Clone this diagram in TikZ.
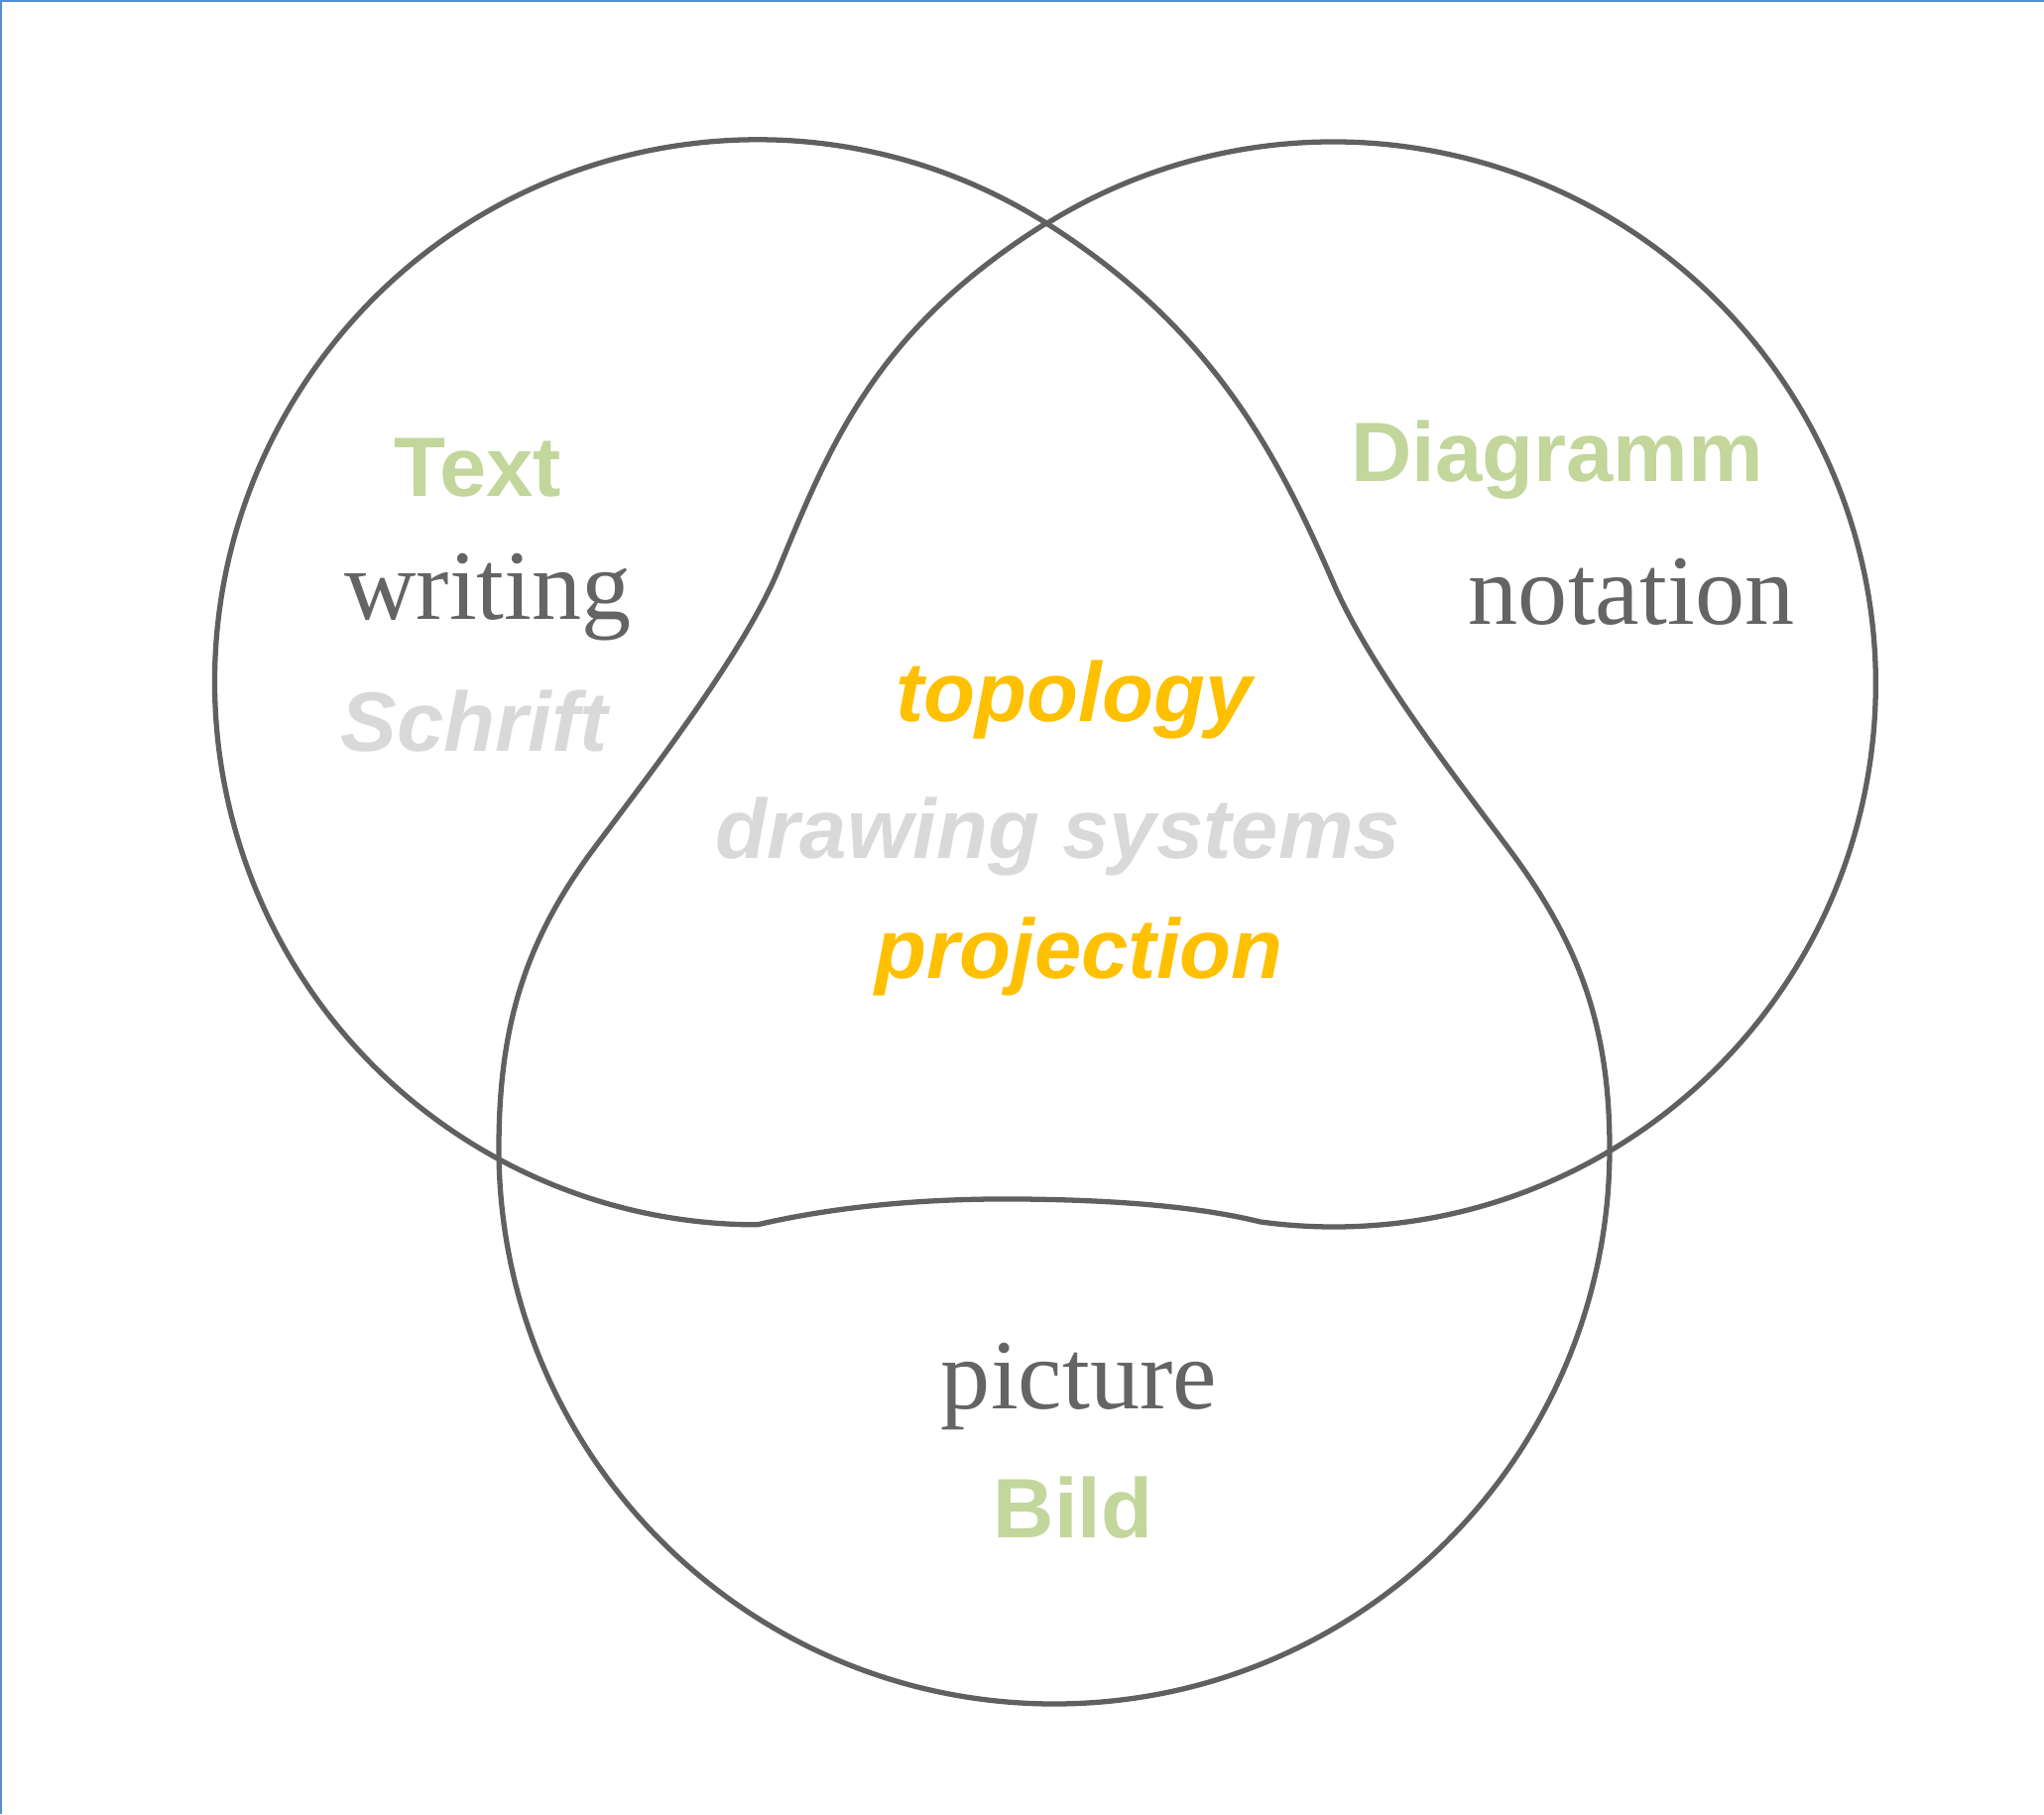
\documentclass[tikz,border=0pt]{standalone}
\usepackage{fontspec}
\setmainfont{Liberation Serif}
\setsansfont{Liberation Sans}
\usepackage{xcolor}
\definecolor{leaf}{RGB}{195,214,155}
\definecolor{amber}{RGB}{255,192,0}
\definecolor{mist}{RGB}{217,217,217}
\definecolor{ink}{RGB}{100,100,100}
\definecolor{rim}{RGB}{96,96,98}
\definecolor{frameblue}{RGB}{85,142,213}

\begin{document}
\begin{tikzpicture}[semithick,
    outline/.style={draw=rim, line width=1.5pt, line join=round},
    de/.style={anchor=base, text=leaf, font=\sffamily\bfseries\fontsize{24.2}{29}\selectfont},
    deit/.style={anchor=base, text=mist, font=\sffamily\bfseries\itshape\fontsize{24.2}{29}\selectfont},
    core/.style={anchor=base, text=amber, font=\sffamily\bfseries\itshape\fontsize{24.2}{29}\selectfont},
    en/.style={anchor=base, text=ink, font=\rmfamily\fontsize{28.5}{34}\selectfont}]
        \useasboundingbox (0,0) rectangle (20.61,18.29);
        \draw[frameblue, line width=0.6pt] (0.01,0) -- (0.01,18.28) -- (20.61,18.28);

        \coordinate (top) at (10.55,16.04);
        \coordinate (bl)  at (5.03,6.71);

        % Text and Diagramm circles, joined by the wavy bottom
        \draw[outline] (top) arc[start angle=57.8, end angle=270, radius=5.47]
              .. controls (8.4,6.12) and (9.3,6.21) .. (10.3,6.20)
              .. controls (11.3,6.19) and (12.1,6.12) .. (12.71,5.97)
              arc[start angle=262.3, end angle=482, radius=5.47] -- cycle;

        % Bild circle with the swollen middle
        \draw[outline] (top) .. controls (8.85,14.98) and (8.38,13.84) .. (7.85,12.55)
              .. controls (7.51,11.72) and (6.54,10.47) .. (6.0,9.75)
              .. controls (5.28,8.79) and (5.03,7.92) .. (bl)
              arc[start angle=180, end angle=360, radius=5.6]
              .. controls (16.23,7.95) and (15.92,8.79) .. (15.2,9.75)
              .. controls (14.66,10.47) and (13.81,11.57) .. (13.45,12.40)
              .. controls (12.89,13.69) and (12.24,14.97) .. (top) -- cycle;

        \node[de]   (txt)      at (4.82,13.28)  {Text};
        \node[en]   (writing)  at (4.92,12.04)  {writing};
        \node[deit] (schrift)  at (4.78,10.71)  {Schrift};
        \node[de]   (diag)     at (15.70,13.43) {Diagramm};
        \node[en]   (notation) at (16.45,11.99) {notation};
        \node[core] (topo)     at (10.83,11.01) {topology};
        \node[deit] (drawsys)  at (10.67,9.63)  {drawing systems};
        \node[core] (proj)     at (10.88,8.43)  {projection};
        \node[en]   (pic)      at (10.88,4.09)  {picture};
        \node[de]   (bild)     at (10.82,2.79)  {Bild};
    \end{tikzpicture}
\end{document}
